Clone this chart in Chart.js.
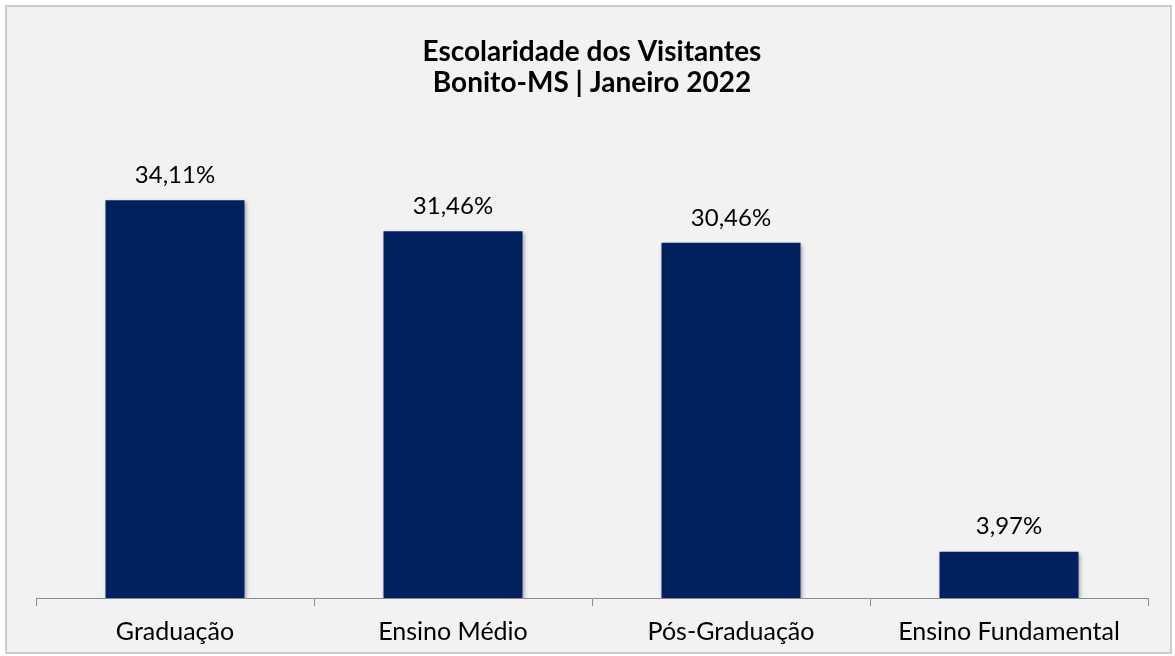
<!DOCTYPE html>
<html>
<head>
<meta charset="utf-8">
<script src="https://cdn.jsdelivr.net/npm/chart.js@4"></script>
<style>
  body { margin: 0; background: #ffffff; }
  .frame {
    position: absolute; left: 5px; top: 5px;
    width: 1163px; height: 645px;
    border: 2px solid #cdcdcd; background: #f2f2f2;
  }
  canvas { display: block; }
</style>
</head>
<body>
<div class="frame"><canvas id="escolaridade" width="1163" height="645"></canvas></div>
<script>
// dados do gráfico
const categorias = ['Graduação', 'Ensino Médio', 'Pós-Graduação', 'Ensino Fundamental'];
const percentuais = [34.11, 31.46, 30.46, 3.97];
const titulo = ['Escolaridade dos Visitantes', 'Bonito-MS | Janeiro 2022'];

const fonte = 'Lato, "Open Sans", sans-serif';

// sombra leve nas barras + rótulos acima delas
const rotulosPlugin = {
    id: 'rotulos',
    beforeDatasetsDraw(chart) {
        const ctx = chart.ctx;
        ctx.save();
        ctx.shadowColor = 'rgba(0,0,0,0.35)';
        ctx.shadowBlur = 4;
        ctx.shadowOffsetX = 1;
        ctx.shadowOffsetY = 2;
    },
    afterDatasetsDraw(chart) {
        const ctx = chart.ctx;
        ctx.restore();
        const meta = chart.getDatasetMeta(0);
        ctx.save();
        ctx.font = '24px ' + fonte;
        ctx.fillStyle = '#000000';
        ctx.textAlign = 'center';
        ctx.textBaseline = 'middle';
        meta.data.forEach((bar, i) => {
            const txt = percentuais[i].toFixed(2).replace('.', ',') + '%';
            ctx.fillText(txt, bar.x, bar.y - 25);
        });
        ctx.restore();
    }
};

const ctx = document.getElementById('escolaridade').getContext('2d');
new Chart(ctx, {
    type: 'bar',
    data: {
        labels: categorias,
        datasets: [{
            data: percentuais,
            backgroundColor: '#002060',
            borderWidth: 0,
            categoryPercentage: 1,
            barPercentage: 0.5
        }]
    },
    options: {
        responsive: false,
        animation: false,
        layout: { padding: { left: 29, right: 22, top: 0, bottom: 0 } },
        plugins: {
            legend: { display: false },
            tooltip: { enabled: false },
            title: {
                display: true,
                text: titulo,
                color: '#000000',
                font: { family: fonte, size: 28, weight: 'bold', lineHeight: 1.1 },
                padding: { top: 30, bottom: 33 }
            }
        },
        scales: {
            x: {
                border: { display: true, color: '#8c8c8c', width: 1 },
                grid: { display: true, drawOnChartArea: false, drawTicks: true, tickLength: 8, color: '#8c8c8c', offset: true },
                ticks: { color: '#000000', font: { family: fonte, size: 25 }, padding: 11 },
                afterFit: (scale) => { scale.height = 54; }
            },
            y: {
                display: false,
                min: 0,
                max: 40
            }
        }
    },
    plugins: [rotulosPlugin]
});
</script>
</body>
</html>
